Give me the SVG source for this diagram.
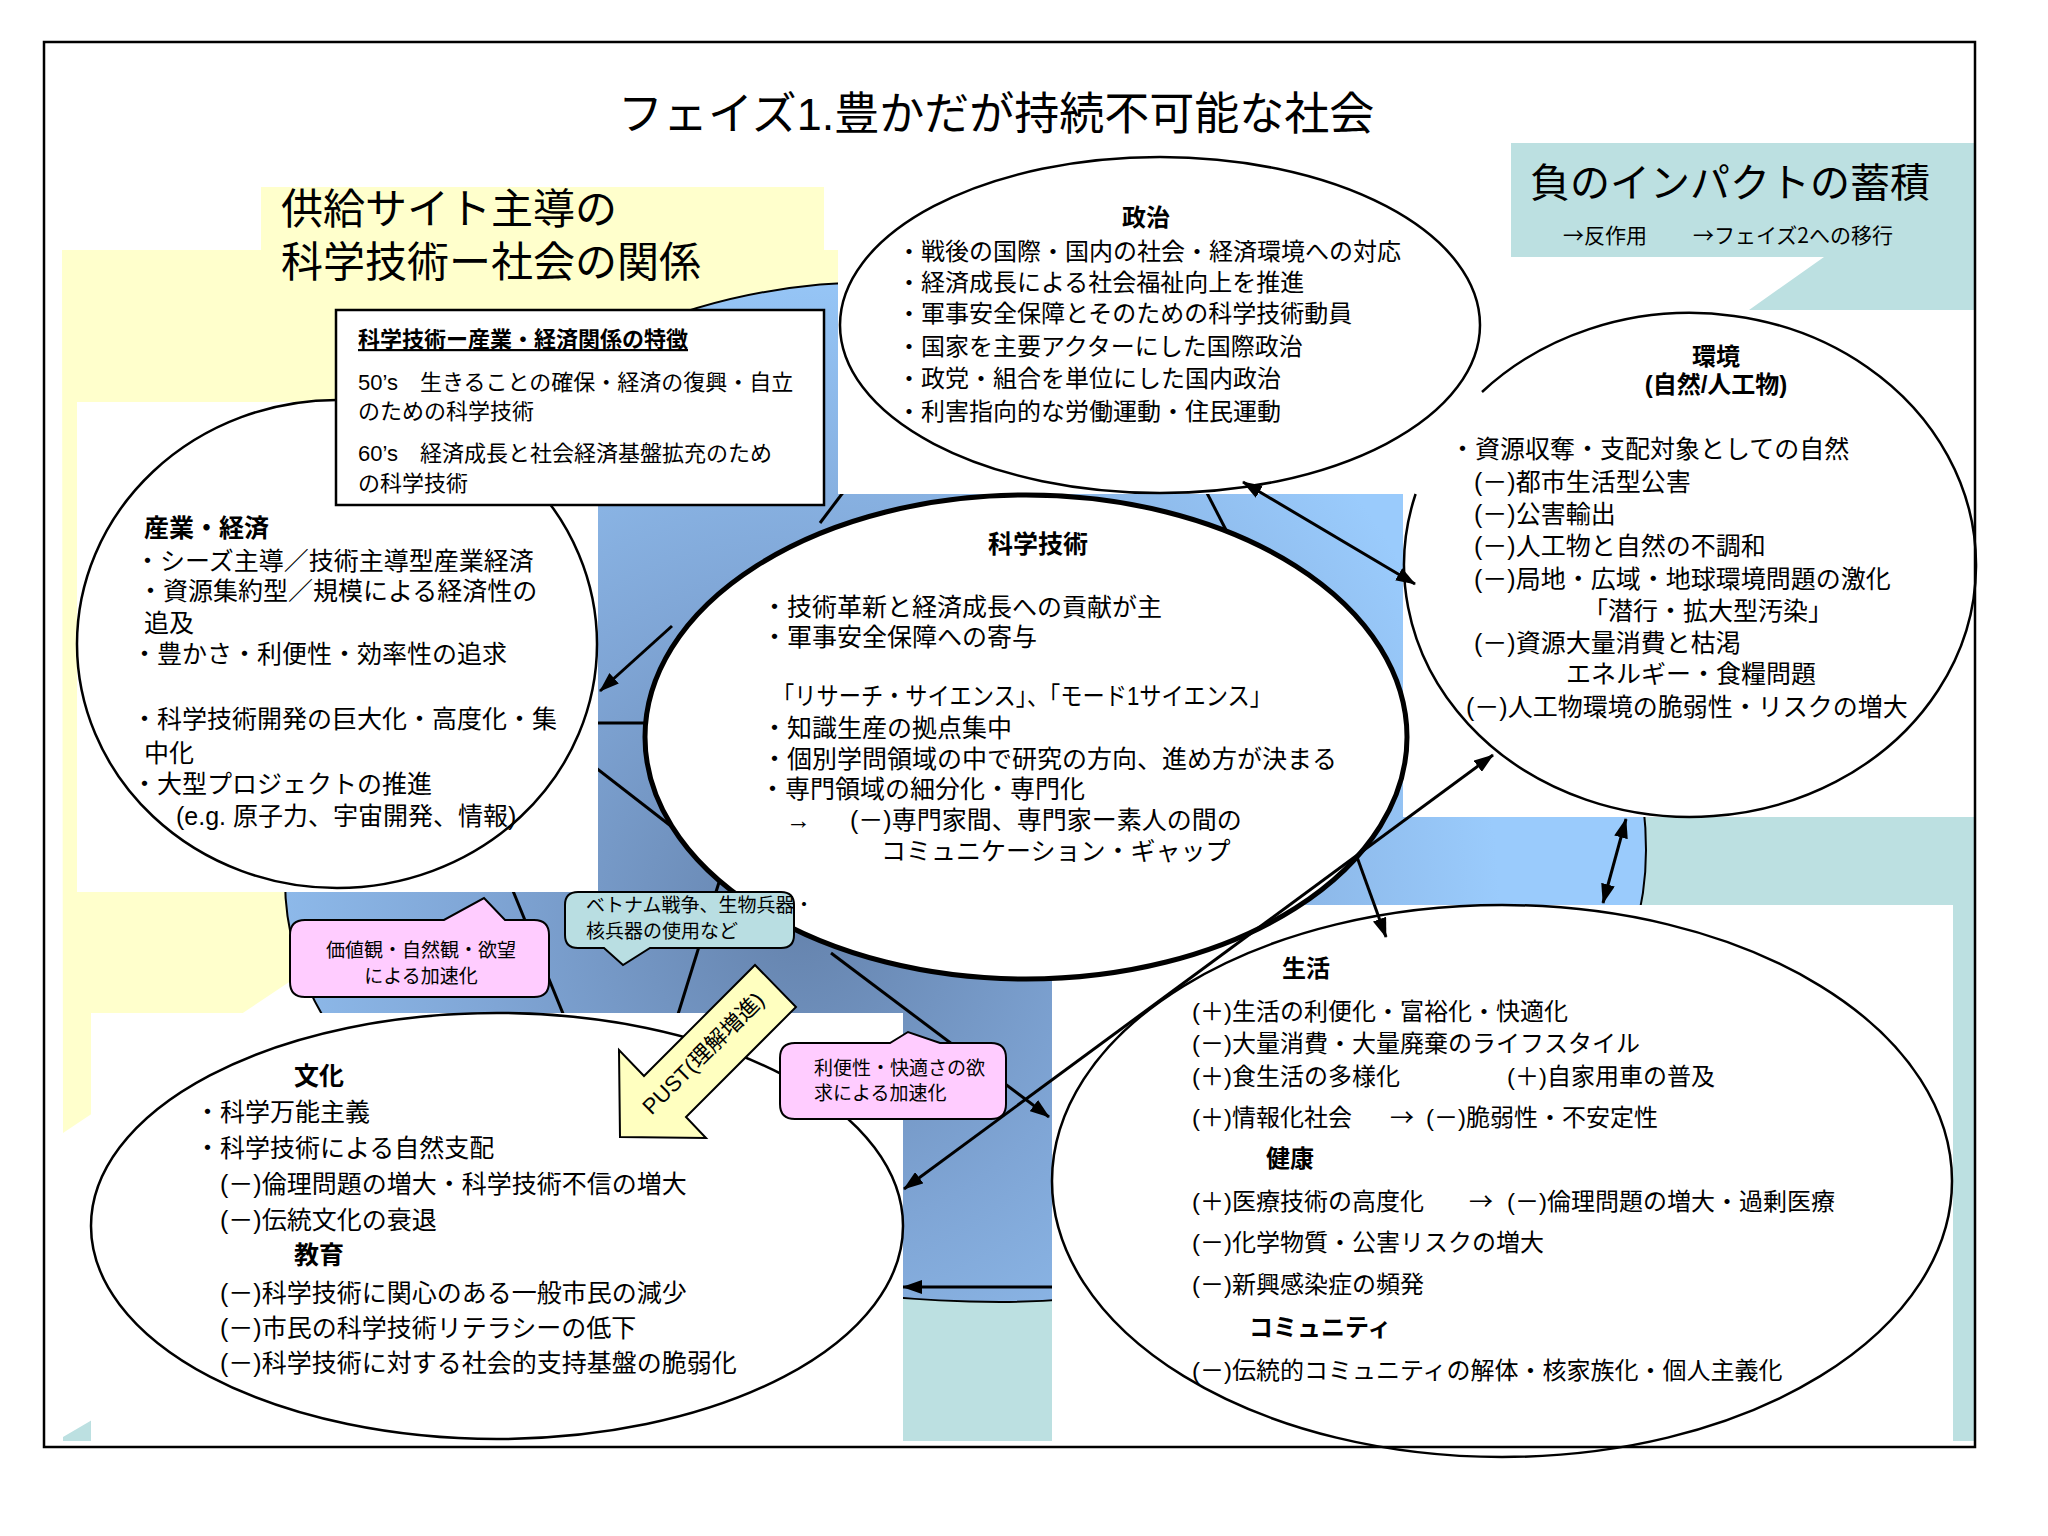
<svg xmlns="http://www.w3.org/2000/svg" width="2048" height="1536" viewBox="0 0 2048 1536">
<defs>
<style>
.t{font-family:"Liberation Sans","Noto Sans CJK JP",sans-serif;fill:#000;}
.j{font-family:"Noto Sans CJK JP","Liberation Sans",sans-serif;fill:#000;}
.b{font-weight:bold;}
.f25{font-size:25px;}
.f24{font-size:24px;}
.f22{font-size:22px;}
.f19{font-size:19px;}
.wr{fill:#fff;stroke:none;}
.node{fill:#fff;stroke:#000;stroke-width:2.5;}
.ln{stroke:#000;stroke-width:3;fill:none;}
.arr{stroke:#000;stroke-width:3;fill:none;marker-end:url(#ah);}
.dbl{stroke:#000;stroke-width:3;fill:none;marker-start:url(#ah);marker-end:url(#ah);}
.pink{fill:#FFCCFF;stroke:#000;stroke-width:2;}
.aqua{fill:#B9DEE2;stroke:#000;stroke-width:2;}
</style>
<radialGradient id="blueGrad" gradientUnits="userSpaceOnUse" cx="800" cy="920" r="700">
<stop offset="0" stop-color="#6583AD"/>
<stop offset="0.45" stop-color="#7FA5D5"/>
<stop offset="1" stop-color="#9ACBFC"/>
</radialGradient>
<marker id="ah" viewBox="0 0 20 14" refX="19" refY="7" markerWidth="20" markerHeight="14" markerUnits="userSpaceOnUse" orient="auto-start-reverse">
<path d="M0,0 L20,7 L0,14 Z" fill="#000"/>
</marker>
</defs>
<rect width="2048" height="1536" fill="#fff"/>

<g id="background">
<polygon points="62,250 261,250 261,187 824,187 824,250 839,250 839,620 400,908 63,1133" fill="#FFFFCC"/>
<polygon points="63,1441 63,1437 1500,595 1974,595 1974,1441" fill="#BCE0E1"/>
<path d="M880,282 C1300,282 1646,560 1646,850 C1646,1100 1330,1302 1000,1302 C620,1302 285,1120 285,880 C285,560 520,282 880,282 Z" fill="url(#blueGrad)" stroke="#000" stroke-width="2"/>
</g>

<g id="connectors">
<line class="ln" x1="820" y1="523" x2="860" y2="470"/>
<line class="ln" x1="1226" y1="530" x2="1190" y2="460"/>
<line class="ln" x1="560" y1="723" x2="650" y2="723" stroke-width="4"/>
<line class="ln" x1="560" y1="740" x2="676" y2="830"/>
<line class="ln" x1="500" y1="859" x2="575" y2="1043"/>
<line class="ln" x1="720" y1="879" x2="670" y2="1040"/>
<line class="arr" x1="1060" y1="1287" x2="903" y2="1287" stroke-width="4"/>
</g>

<g id="node-sangyo">
<rect class="wr" x="77" y="402" width="521" height="490"/>
<ellipse class="node" cx="337" cy="644" rx="260" ry="244"/>
<text class="t b f25" x="144" y="537">産業・経済</text>
<text class="t f25" x="135" y="570">・シーズ主導／技術主導型産業経済</text>
<text class="t f25" x="138" y="600">・資源集約型／規模による経済性の</text>
<text class="t f25" x="144" y="632">追及</text>
<text class="t f25" x="132" y="663">・豊かさ・利便性・効率性の追求</text>
<text class="t f25" x="132" y="728">・科学技術開発の巨大化・高度化・集</text>
<text class="t f25" x="144" y="762">中化</text>
<text class="t f25" x="132" y="793">・大型プロジェクトの推進</text>
<text class="t f25" x="176" y="825">(e.g. 原子力、宇宙開発、情報)</text>
</g>

<g id="node-bunka">
<rect class="wr" x="91" y="1013" width="812" height="428"/>
<ellipse class="node" cx="497" cy="1226" rx="406" ry="213"/>
<text class="t b f25" x="294" y="1085">文化</text>
<text class="t f25" x="195" y="1121">・科学万能主義</text>
<text class="t f25" x="195" y="1157">・科学技術による自然支配</text>
<text class="t f25" x="220" y="1193">(－)倫理問題の増大・科学技術不信の増大</text>
<text class="t f25" x="220" y="1229">(－)伝統文化の衰退</text>
<text class="t b f25" x="294" y="1264">教育</text>
<text class="t f25" x="220" y="1302">(－)科学技術に関心のある一般市民の減少</text>
<text class="t f25" x="220" y="1337">(－)市民の科学技術リテラシーの低下</text>
<text class="t f25" x="220" y="1372">(－)科学技術に対する社会的支持基盤の脆弱化</text>
</g>

<g id="node-seikatsu">
<rect class="wr" x="1052" y="905" width="901" height="536"/>
<ellipse class="node" cx="1502" cy="1181" rx="450" ry="276"/>
<text class="t b f24" x="1282" y="977">生活</text>
<text class="t f24" x="1192" y="1020">(＋)生活の利便化・富裕化・快適化</text>
<text class="t f24" x="1192" y="1052">(－)大量消費・大量廃棄のライフスタイル</text>
<text class="t f24" x="1192" y="1085">(＋)食生活の多様化</text>
<text class="t f24" x="1507" y="1085">(＋)自家用車の普及</text>
<text class="t f24" x="1192" y="1126">(＋)情報化社会</text>
<text class="j f24" x="1390" y="1126">→</text>
<text class="t f24" x="1426" y="1126">(－)脆弱性・不安定性</text>
<text class="t b f24" x="1266" y="1167">健康</text>
<text class="t f24" x="1192" y="1210">(＋)医療技術の高度化</text>
<text class="j f24" x="1469" y="1210">→</text>
<text class="t f24" x="1507" y="1210">(－)倫理問題の増大・過剰医療</text>
<text class="t f24" x="1192" y="1251">(－)化学物質・公害リスクの増大</text>
<text class="t f24" x="1192" y="1293">(－)新興感染症の頻発</text>
<text class="t b f24" x="1249" y="1336">コミュニティ</text>
<text class="t f24" x="1192" y="1379">(－)伝統的コミュニティの解体・核家族化・個人主義化</text>
</g>

<g id="node-seiji">
<rect class="wr" x="838" y="150" width="644" height="344"/>
<ellipse class="node" cx="1160" cy="325" rx="320" ry="168"/>
<text class="t b f24" x="1146" y="226" text-anchor="middle">政治</text>
<text class="t f24" x="897" y="260">・戦後の国際・国内の社会・経済環境への対応</text>
<text class="t f24" x="897" y="291">・経済成長による社会福祉向上を推進</text>
<text class="t f24" x="897" y="322">・軍事安全保障とそのための科学技術動員</text>
<text class="t f24" x="897" y="355">・国家を主要アクターにした国際政治</text>
<text class="t f24" x="897" y="387">・政党・組合を単位にした国内政治</text>
<text class="t f24" x="897" y="420">・利害指向的な労働運動・住民運動</text>
</g>

<g id="node-kankyo">
<polygon class="wr" points="1482,310 1974,310 1974,817 1403,817 1403,494 1482,494"/>
<ellipse cx="1690" cy="565" rx="286" ry="252" fill="#fff" stroke="none"/>
<path d="M1482,392 A286,252 0 1,1 1415.6,494" fill="none" stroke="#000" stroke-width="2.5"/>
<text class="t b f24" x="1716" y="365" text-anchor="middle">環境</text>
<text class="t b f24" x="1716" y="393" text-anchor="middle">(自然/人工物)</text>
<text class="t f25" x="1450" y="458">・資源収奪・支配対象としての自然</text>
<text class="t f25" x="1474" y="491">(－)都市生活型公害</text>
<text class="t f25" x="1474" y="523">(－)公害輸出</text>
<text class="t f25" x="1474" y="555">(－)人工物と自然の不調和</text>
<text class="t f25" x="1474" y="588">(－)局地・広域・地球環境問題の激化</text>
<text class="t f25" x="1583" y="620">「潜行・拡大型汚染」</text>
<text class="t f25" x="1474" y="652">(－)資源大量消費と枯渇</text>
<text class="t f25" x="1566" y="683">エネルギー・食糧問題</text>
<text class="t f25" x="1466" y="716">(－)人工物環境の脆弱性・リスクの増大</text>
</g>

<g id="node-kagaku">
<ellipse cx="1026" cy="737" rx="381" ry="242" fill="#fff" stroke="#000" stroke-width="5"/>
<text class="t b f25" x="1038" y="553" text-anchor="middle">科学技術</text>
<text class="t f25" x="762" y="616">・技術革新と経済成長への貢献が主</text>
<text class="t f25" x="762" y="646">・軍事安全保障への寄与</text>
<text class="t f25" x="772" y="705" textLength="500" lengthAdjust="spacingAndGlyphs">「リサーチ・サイエンス」、「モード1サイエンス」</text>
<text class="t f25" x="762" y="737">・知識生産の拠点集中</text>
<text class="t f25" x="762" y="768">・個別学問領域の中で研究の方向、進め方が決まる</text>
<text class="t f25" x="760" y="798">・専門領域の細分化・専門化</text>
<text class="t f25" x="786" y="829">→</text>
<text class="t f25" x="850" y="829">(－)専門家間、専門家ー素人の間の</text>
<text class="t f25" x="881" y="860">コミュニケーション・ギャップ</text>
</g>

<g id="node-tokucho">
<rect x="336" y="310" width="488" height="195" fill="#fff" stroke="#000" stroke-width="2.5"/>
<text class="t b f22" x="358" y="347" text-decoration="underline">科学技術ー産業・経済関係の特徴</text>
<text class="t f22" x="358" y="390">50’s　生きることの確保・経済の復興・自立</text>
<text class="t f22" x="358" y="419">のための科学技術</text>
<text class="t f22" x="358" y="461">60’s　経済成長と社会経済基盤拡充のため</text>
<text class="t f22" x="358" y="491">の科学技術</text>
</g>

<g id="connectors-top">
<line class="arr" x1="672" y1="626" x2="600" y2="691"/>
<line class="dbl" x1="1243" y1="482" x2="1415" y2="584"/>
<line class="dbl" x1="1493" y1="755" x2="904" y2="1189"/>
<line class="arr" x1="1357" y1="857" x2="1386" y2="937"/>
<line class="dbl" x1="1626" y1="819" x2="1603" y2="903"/>
<line class="arr" x1="831" y1="953" x2="1049" y2="1117"/>
</g>

<g id="callout-kachikan">
<path class="pink" d="M305,920 H444 L484,898 L505,920 H534 Q549,920 549,935 V982 Q549,997 534,997 H305 Q290,997 290,982 V935 Q290,920 305,920 Z"/>
<text class="t f19" x="421" y="957" text-anchor="middle">価値観・自然観・欲望</text>
<text class="t f19" x="421" y="983" text-anchor="middle">による加速化</text>
</g>

<g id="callout-vietnam">
<path class="aqua" d="M578,892 H781 Q794,892 794,905 V935 Q794,948 781,948 H650 L623,965 L604,948 H578 Q565,948 565,935 V905 Q565,892 578,892 Z"/>
<text class="t f19" x="586" y="912">ベトナム戦争、生物兵器・</text>
<text class="t f19" x="586" y="938">核兵器の使用など</text>
</g>

<g id="callout-riben">
<path class="pink" d="M795,1043 H890 L908,1032 L940,1043 H991 Q1006,1043 1006,1058 V1104 Q1006,1119 991,1119 H795 Q780,1119 780,1104 V1058 Q780,1043 795,1043 Z"/>
<text class="t f19" x="814" y="1075">利便性・快適さの欲</text>
<text class="t f19" x="814" y="1100">求による加速化</text>
</g>

<g id="arrow-pust">
<polygon points="755,965 796,1007 686,1117 706,1138 620,1137 619,1050 644,1076" fill="#FFFFC0" stroke="#000" stroke-width="2"/>
<text class="t f22" transform="translate(703,1053) rotate(-45)" x="0" y="8" text-anchor="middle">PUST(理解増進)</text>
</g>

<g id="callout-impact">
<path d="M1511,143 H1974 V310 H1749 L1824,257 H1511 Z" fill="#BCE0E1"/>
<text class="t" x="1530" y="197" font-size="40">負のインパクトの蓄積</text>
<text class="j" x="1563" y="243" font-size="21">→反作用</text>
<text class="j" x="1693" y="243" font-size="21">→フェイズ2への移行</text>
</g>

<g id="heading">
<text class="t" x="281" y="224" font-size="42">供給サイト主導の</text>
<text class="t" x="281" y="277" font-size="42">科学技術ー社会の関係</text>
</g>

<g id="title">
<text class="t" x="618" y="130" font-size="45">フェイズ1.豊かだが持続不可能な社会</text>
</g>

<rect id="frame" x="44" y="42" width="1931" height="1405" fill="none" stroke="#000" stroke-width="2.5"/>
</svg>
